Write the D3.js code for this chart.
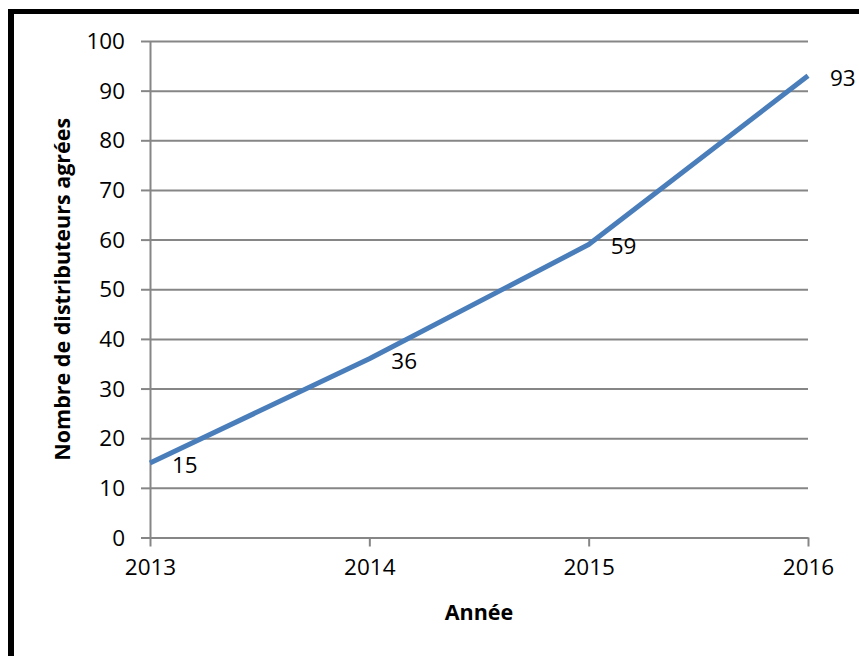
<!DOCTYPE html>
<html>
<head>
<meta charset="utf-8">
<script src="https://cdn.jsdelivr.net/npm/d3@7"></script>
<style>
  html, body { margin: 0; padding: 0; background: #fff; }
  svg { display: block; }
  text { font-family: "Open Sans", "Liberation Sans", sans-serif; fill: #000; }
</style>
</head>
<body>
<script>
// Nombre de distributeurs agréés par année
const years = ["2013", "2014", "2015", "2016"];
const distributeurs = [15, 36, 59, 93];
const yTicks = [0, 10, 20, 30, 40, 50, 60, 70, 80, 90, 100];

const W = 859, H = 656;
const margin = { left: 150, right: 51, top: 41, bottom: 118.5 };

const svg = d3.select("body").append("svg").attr("width", W).attr("height", H);

// Cadre noir (haut et gauche)
svg.append("rect").attr("x", 8).attr("y", 9).attr("width", W).attr("height", 5).attr("fill", "#000");
svg.append("rect").attr("x", 8).attr("y", 9).attr("width", 6).attr("height", H).attr("fill", "#000");

const x = d3.scalePoint().domain(years).range([margin.left, W - margin.right]);
const y = d3.scaleLinear().domain([0, 100]).range([H - margin.bottom, margin.top]);

const grid = "#868686";

// Axe vertical avec quadrillage horizontal
const yAxis = svg.append("g")
  .attr("transform", `translate(${margin.left},0)`)
  .call(d3.axisLeft(y).tickValues(yTicks).tickSize(9).tickPadding(16)
    .tickSizeOuter(0));
yAxis.select(".domain").attr("stroke", grid).attr("stroke-width", 2);
yAxis.selectAll(".tick line").attr("stroke", grid).attr("stroke-width", 2);
yAxis.selectAll(".tick text").attr("font-size", "22.5px").attr("dy", "0.34em")
  .attr("font-family", "'Open Sans', sans-serif").attr("fill", "#000");
yAxis.selectAll(".tick").filter(d => d > 0).append("line")
  .attr("x1", 0).attr("x2", W - margin.right - margin.left)
  .attr("stroke", grid).attr("stroke-width", 2);

// Axe horizontal
const xAxis = svg.append("g")
  .attr("transform", `translate(0,${y(0)})`)
  .call(d3.axisBottom(x).tickSize(9).tickPadding(13).tickSizeOuter(0));
xAxis.select(".domain").attr("stroke", grid).attr("stroke-width", 2);
xAxis.selectAll(".tick line").attr("stroke", grid).attr("stroke-width", 2);
xAxis.selectAll(".tick text").attr("font-size", "22.5px")
  .attr("font-family", "'Open Sans', sans-serif").attr("fill", "#000");

// Courbe
const data = years.map((yr, i) => ({ yr, v: distributeurs[i] }));
svg.append("path")
  .datum(data)
  .attr("fill", "none")
  .attr("stroke", "#4a7ebb")
  .attr("stroke-width", 5)
  .attr("stroke-linejoin", "round")
  .attr("d", d3.line().x(d => x(d.yr)).y(d => y(d.v)));

// Étiquettes de valeur
svg.selectAll("text.val").data(data).enter().append("text")
  .attr("class", "val")
  .attr("x", d => x(d.yr) + 22)
  .attr("y", d => y(d.v) + 2)
  .attr("dy", "0.35em")
  .attr("font-size", "22.5px")
  .text(d => d.v);

// Titres des axes
svg.append("text")
  .attr("x", (margin.left + W - margin.right) / 2)
  .attr("y", 620)
  .attr("text-anchor", "middle")
  .attr("font-weight", "bold")
  .attr("font-size", "21.5px")
  .text("Année");

svg.append("text")
  .attr("transform", `translate(70,${(y(0) + y(100)) / 2}) rotate(-90)`)
  .attr("text-anchor", "middle")
  .attr("font-weight", "bold")
  .attr("font-size", "21.5px")
  .text("Nombre de distributeurs agrées");
</script>
</body>
</html>
